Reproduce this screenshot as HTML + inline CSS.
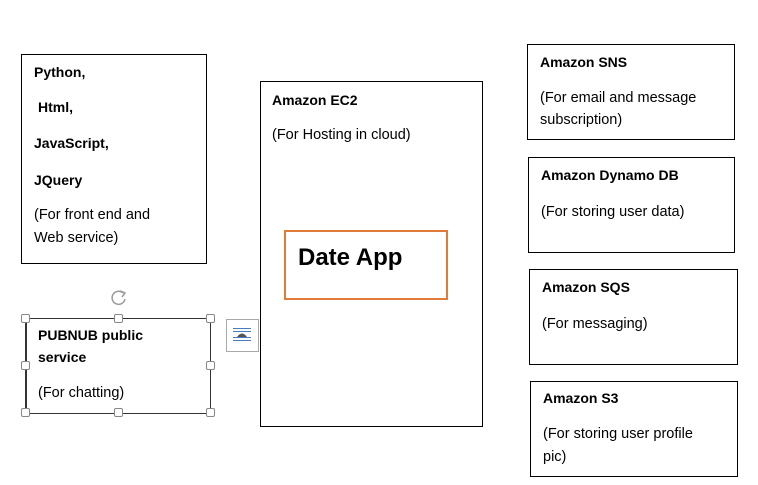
<!DOCTYPE html>
<html><head><meta charset="utf-8"><style>
body{margin:0;width:758px;height:485px;background:#fff;position:relative;overflow:hidden;font-family:"Liberation Sans",sans-serif;color:#000}
.b{position:absolute;border:1px solid #000;box-sizing:border-box}
.t{position:absolute;font-size:14.5px;white-space:nowrap;line-height:18px}
.bd{font-weight:bold;font-size:14px}
.h{position:absolute;width:7px;height:7px;border:1px solid #888;background:#fff;border-radius:2px}
</style></head><body>
<div class="b" style="left:21px;top:54px;width:186px;height:210px"></div>
<div class="t bd" style="left:34px;top:63px">Python,</div>
<div class="t bd" style="left:38px;top:98px">Html,</div>
<div class="t bd" style="left:34px;top:134px">JavaScript,</div>
<div class="t bd" style="left:34px;top:171px">JQuery</div>
<div class="t" style="left:34px;top:206px">(For front end and</div>
<div class="t" style="left:34px;top:229px">Web service)</div>

<div class="b" style="left:260px;top:81px;width:223px;height:346px"></div>
<div class="t bd" style="left:272px;top:91px">Amazon EC2</div>
<div class="t" style="left:272px;top:126px">(For Hosting in cloud)</div>
<div class="b" style="left:284px;top:230px;width:164px;height:70px;border:2px solid #e07b39"></div>
<div class="t" style="left:298px;top:244px;font-size:24px;font-weight:bold;line-height:28px">Date App</div>

<div class="b" style="left:25px;top:318px;width:186px;height:96px;border-color:#333;border-width:1px 1px 1px 2px"></div>
<div class="t bd" style="left:38px;top:326px">PUBNUB public</div>
<div class="t bd" style="left:38px;top:348px">service</div>
<div class="t" style="left:38px;top:384px">(For chatting)</div>
<div class="h" style="left:21px;top:314px"></div><div class="h" style="left:114px;top:314px"></div><div class="h" style="left:206px;top:314px"></div>
<div class="h" style="left:21px;top:361px"></div><div class="h" style="left:206px;top:361px"></div>
<div class="h" style="left:21px;top:408px"></div><div class="h" style="left:114px;top:408px"></div><div class="h" style="left:206px;top:408px"></div>
<svg style="position:absolute;left:108px;top:287px" width="22" height="22"><path d="M15 6 A6.5 6.5 0 1 0 17 12" fill="none" stroke="#999" stroke-width="1.5"/><path d="M12 4 L17 6 L14 10" fill="none" stroke="#999" stroke-width="1.5"/></svg>
<div style="position:absolute;left:226px;top:319px;width:33px;height:33px;border:1px solid #aaa;box-sizing:border-box;background:#fff"></div>
<svg style="position:absolute;left:232px;top:327px" width="20" height="18"><g stroke="#4a7cc0" stroke-width="1"><line x1="1" y1="1.5" x2="19" y2="1.5"/><line x1="1" y1="4.5" x2="19" y2="4.5"/><line x1="1" y1="10.5" x2="19" y2="10.5"/><line x1="1" y1="13.5" x2="19" y2="13.5"/></g><path d="M5 10 Q10 3 15 10 Z" fill="#555"/></svg>

<div class="b" style="left:527px;top:44px;width:208px;height:96px"></div>
<div class="t bd" style="left:540px;top:53px">Amazon SNS</div>
<div class="t" style="left:540px;top:89px">(For email and message</div>
<div class="t" style="left:540px;top:111px">subscription)</div>

<div class="b" style="left:528px;top:157px;width:207px;height:96px"></div>
<div class="t bd" style="left:541px;top:166px">Amazon Dynamo DB</div>
<div class="t" style="left:541px;top:203px">(For storing user data)</div>

<div class="b" style="left:529px;top:269px;width:209px;height:96px"></div>
<div class="t bd" style="left:542px;top:278px">Amazon SQS</div>
<div class="t" style="left:542px;top:315px">(For messaging)</div>

<div class="b" style="left:530px;top:381px;width:208px;height:96px"></div>
<div class="t bd" style="left:543px;top:389px">Amazon S3</div>
<div class="t" style="left:543px;top:425px">(For storing user profile</div>
<div class="t" style="left:543px;top:448px">pic)</div>
</body></html>
